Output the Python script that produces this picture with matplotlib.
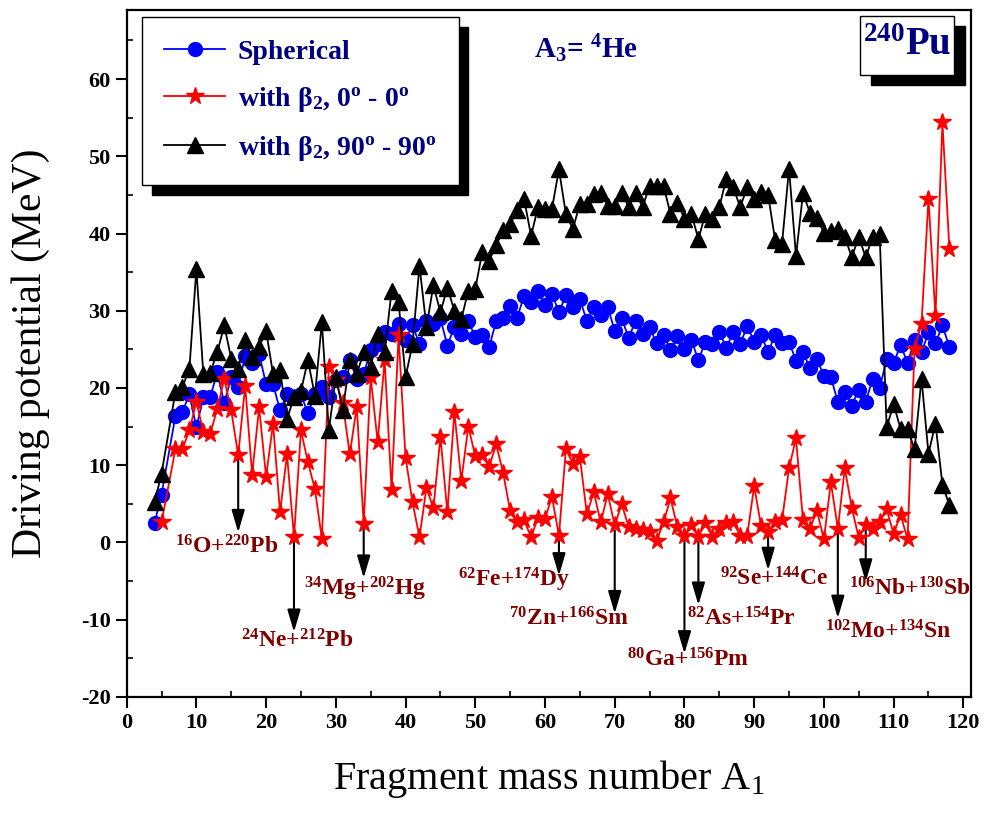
import numpy as np
import matplotlib
matplotlib.use('Agg')
import matplotlib.pyplot as plt
from matplotlib.patches import Rectangle

plt.rcParams['font.family'] = 'Liberation Serif'
plt.rcParams['mathtext.fontset'] = 'custom'
plt.rcParams['mathtext.rm'] = 'Liberation Serif:bold'
plt.rcParams['mathtext.it'] = 'Liberation Serif:bold:italic'
plt.rcParams['mathtext.bf'] = 'Liberation Serif:bold'
plt.rcParams['axes.unicode_minus'] = False

# fragment mass numbers (no point at A1 = 6)
a_mass = [4, 5] + list(range(7, 119))
a_red = a_mass[1:]

# spherical driving potential (MeV)
v_sph = [2.5, 6.2, 16.4, 16.9, 19.2, 14.9, 18.8, 18.8, 22.1, 18.0,   # 4..14
         21.4, 20.1, 24.2, 23.3, 24.4, 20.5, 20.5, 17.1, 19.2, 18.8,  # 15..24
         19.2, 16.7, 19.2, 20.1, 18.8, 21.0, 21.4, 23.6, 21.2, 21.8,  # 25..34
         24.9, 25.7, 27.2, 27.0, 28.3, 26.2, 28.1, 25.7, 28.7, 28.3,  # 35..44
         29.0, 25.5, 27.9, 27.0, 28.7, 26.6, 26.8, 25.3, 28.7, 29.1,  # 45..54
         30.6, 29.1, 31.9, 31.1, 32.6, 30.7, 32.2, 29.8, 32.0, 30.5,  # 55..64
         31.5, 28.7, 30.5, 29.4, 30.5, 27.4, 29.0, 26.5, 28.7, 27.0,  # 65..74
         27.9, 25.8, 26.9, 24.9, 26.7, 25.1, 26.2, 23.6, 26.0, 25.7,  # 75..84
         27.2, 25.2, 27.2, 25.7, 28.0, 26.0, 26.9, 24.6, 26.9, 25.8,  # 85..94
         26.0, 23.5, 24.6, 22.6, 23.7, 21.6, 21.4, 18.2, 19.5, 17.7,  # 95..104
         19.8, 18.2, 21.2, 20.0, 23.7, 23.2, 25.6, 23.2, 26.2, 24.6,  # 105..114
         27.2, 25.8, 28.1, 25.3]                                      # 115..118

# with beta2, 0-0 orientation (starts at A1 = 5)
v_b00 = [2.6, 12.1, 12.1, 14.5, 18.2, 14.3, 14.1, 17.3, 21.2,        # 5..14
         17.1, 11.3, 20.3, 8.8, 17.5, 8.5, 15.4, 3.9, 11.4, 0.7,      # 15..24
         14.5, 10.4, 6.9, 0.5, 22.7, 21.0, 18.0, 11.4, 17.6, 2.4,     # 25..34
         21.4, 13.0, 23.6, 6.8, 26.8, 11.0, 5.2, 0.7, 7.1, 4.4,       # 35..44
         13.7, 3.9, 16.9, 8.0, 15.0, 11.2, 11.3, 9.8, 12.7, 9.0,      # 45..54
         4.1, 2.6, 2.9, 0.7, 3.2, 3.1, 5.9, 0.9, 12.1, 10.2,          # 55..64
         11.1, 3.7, 6.5, 2.6, 6.3, 2.2, 5.0, 2.0, 1.8, 1.6,           # 65..74
         1.3, 0.2, 2.6, 5.7, 2.0, 0.8, 2.2, 0.7, 2.5, 0.7,            # 75..84
         1.8, 2.5, 2.6, 0.9, 0.9, 7.3, 2.1, 1.3, 2.7, 2.9,            # 85..94
         9.6, 13.5, 2.9, 1.8, 4.1, 0.4, 7.8, 1.8, 9.6, 4.5,           # 95..104
         0.6, 2.2, 1.8, 2.7, 4.3, 1.1, 3.6, 0.4, 25.1, 28.3,          # 105..114
         44.5, 29.3, 54.4, 38.0]                                      # 115..118

# with beta2, 90-90 orientation
v_b90 = [5.2, 8.9, 19.5, 20.1, 22.5, 35.4, 21.8, 22.0, 24.6, 28.1,   # 4..14
         23.8, 22.5, 26.2, 24.0, 25.3, 27.4, 21.8, 22.3, 16.0, 18.8,  # 15..24
         19.6, 23.6, 19.0, 28.5, 14.5, 21.4, 17.1, 23.6, 21.8, 24.6,  # 25..34
         22.7, 27.0, 24.6, 32.6, 31.1, 21.4, 25.7, 35.8, 27.9, 33.3,  # 35..44
         29.8, 33.0, 30.0, 28.9, 32.6, 32.8, 37.6, 36.5, 38.5, 40.4,  # 45..54
         41.2, 43.0, 44.5, 39.7, 43.4, 43.2, 43.2, 48.3, 42.5, 40.6,  # 55..64
         43.8, 43.8, 45.1, 45.3, 43.6, 43.6, 45.3, 43.4, 45.3, 43.4,  # 65..74
         46.2, 46.2, 46.2, 42.5, 44.0, 41.9, 42.5, 39.3, 42.5, 41.9,  # 75..84
         43.4, 47.1, 46.0, 43.4, 46.0, 44.5, 45.4, 45.0, 39.2, 38.7,  # 85..94
         48.4, 37.1, 45.2, 42.7, 42.0, 40.1, 40.3, 40.6, 39.6, 36.9,  # 95..104
         39.6, 36.9, 39.6, 39.9, 14.9, 17.9, 14.7, 14.7, 12.1, 21.2,  # 105..114
         11.5, 15.4, 7.5, 4.8]                                        # 115..118

# decay channels marked with arrows: label, A1, arrow tip, text position
chan_labels = [r'$^{16}$O+$^{220}$Pb', r'$^{24}$Ne+$^{212}$Pb', r'$^{34}$Mg+$^{202}$Hg',
               r'$^{62}$Fe+$^{174}$Dy', r'$^{70}$Zn+$^{166}$Sm', r'$^{80}$Ga+$^{156}$Pm',
               r'$^{82}$As+$^{154}$Pr', r'$^{92}$Se+$^{144}$Ce', r'$^{102}$Mo+$^{134}$Sn',
               r'$^{106}$Nb+$^{130}$Sb']
chan_a = [16, 24, 34, 62, 70, 80, 82, 92, 102, 106]
chan_tip = [1.3, -11.6, -4.6, -4.3, -9.2, -14.4, -8.1, -3.6, -9.8, -5.1]
chan_tx = [14.3, 24.5, 34.2, 55.6, 63.5, 80.6, 88.2, 92.8, 109.3, 112.3]
chan_ty = [-0.6, -12.8, -6.0, -4.9, -9.9, -15.2, -9.9, -4.7, -11.6, -6.0]

navy = '#000080'
maroon = '#800000'

fig = plt.figure(figsize=(9.84, 8.19), dpi=100)
ax = fig.add_axes([0.1287, 0.149, 0.8581, 0.8394])

ax.plot(a_mass, v_sph, '-o', color='#0000FF', lw=1.3, ms=10, mec='#0000FF',
        label='Spherical', zorder=3)
ax.plot(a_red, v_b00, '-*', color='#FF0000', lw=1.3, ms=13, mec='#FF0000',
        label=r'with β$_2$, 0$^\mathrm{o}$ - 0$^\mathrm{o}$', zorder=4)
ax.plot(a_mass, v_b90, '-^', color='k', lw=1.3, ms=11,
        label=r'with β$_2$, 90$^\mathrm{o}$ - 90$^\mathrm{o}$', zorder=5)

# arrows + channel names
for lab, a, tip, tx, ty in zip(chan_labels, chan_a, chan_tip, chan_tx, chan_ty):
    start = v_b00[a_red.index(a)] - 0.6
    ax.annotate('', xy=(a, tip), xytext=(a, start),
                arrowprops=dict(arrowstyle='-|>,head_length=0.85,head_width=0.25',
                                color='k', lw=1.5, mutation_scale=16,
                                shrinkA=0, shrinkB=0), zorder=2)
    ax.text(tx, ty, lab, color=maroon, fontsize=17, fontweight='bold',
            ha='center', va='center')

ax.set_xlim(0, 121.1)
ax.set_ylim(-20, 69)
ax.set_xticks(range(0, 121, 10))
ax.set_yticks(range(-20, 61, 10))
ax.set_xticks(range(5, 121, 10), minor=True)
ax.set_yticks(range(-15, 66, 10), minor=True)
ax.tick_params(which='major', direction='out', length=8, width=1.5, labelsize=16)
ax.tick_params(which='minor', direction='in', length=4, width=1.2)
for lab in ax.get_xticklabels() + ax.get_yticklabels():
    lab.set_fontweight('bold')
for sp in ax.spines.values():
    sp.set_linewidth(1.6)

ax.set_xlabel('Fragment mass number A$_\\mathregular{1}$', fontsize=29, labelpad=18)
ax.set_ylabel('Driving potential (MeV)', fontsize=30, labelpad=22)

leg = ax.legend(loc='upper left', bbox_to_anchor=(0.018, 0.989), borderaxespad=0,
                fancybox=False, edgecolor='k', framealpha=1, handlelength=2.2,
                handletextpad=0.45, borderpad=0.8, labelspacing=0.72,
                prop={'family': 'Liberation Serif', 'weight': 'bold', 'size': 20},
                shadow={'ox': 7, 'oy': -7, 'facecolor': 'k', 'edgecolor': 'k', 'alpha': 1})
leg.get_frame().set_linewidth(1.0)
for t in leg.get_texts():
    t.set_color(navy)

ax.text(65.9, 63.9, r'A$_3$= $^4$He', color=navy, fontsize=21, fontweight='bold',
        ha='center', va='center')

# 240Pu box with shadow
ax.add_patch(Rectangle((0.8815, 0.8906), 0.1114, 0.0855, transform=ax.transAxes,
                       facecolor='k', edgecolor='k', zorder=6))
ax.add_patch(Rectangle((0.8685, 0.9051), 0.1114, 0.0855, transform=ax.transAxes,
                       facecolor='w', edgecolor='k', lw=1.0, zorder=7))
ax.text(0.9242, 0.9478, r'$^{240}$Pu', transform=ax.transAxes, color=navy,
        fontsize=28, fontweight='bold', ha='center', va='center', zorder=8)

fig.savefig('out.png', dpi=100)
